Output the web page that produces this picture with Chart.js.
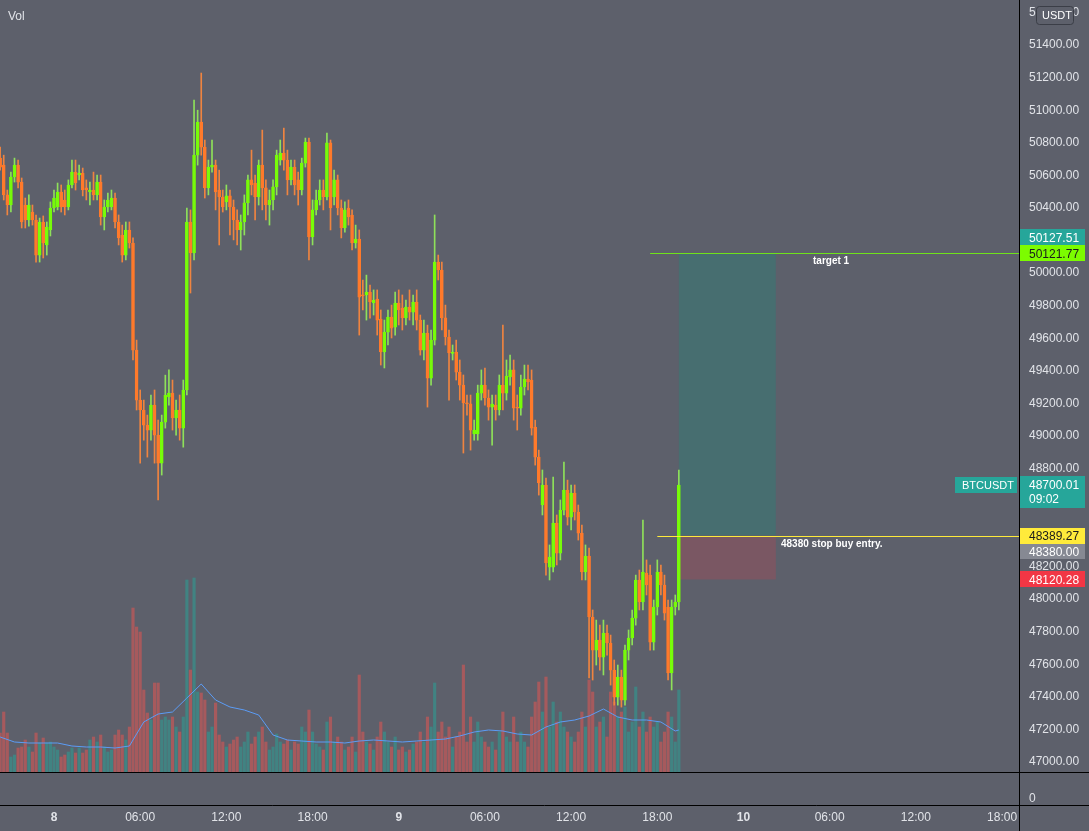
<!DOCTYPE html>
<html>
<head>
<meta charset="utf-8">
<script src="https://cdn.jsdelivr.net/npm/chart.js@4.4.1/dist/chart.umd.min.js"></script>
<style>
  html, body { margin: 0; padding: 0; background: #5d606b; }
  #wrap { width: 1089px; height: 831px; position: relative; }
</style>
</head>
<body>
<div id="wrap"><canvas id="btc"></canvas></div>
<script>
// 15 min BTCUSDT candles, time in hours from day 8 00:00 (first candle 7th 20:15)
const startHour = -3.75;
const stepHours = 0.25;

const opens = [
  50706, 50663, 50480, 50418, 50590, 50663, 50559, 50418, 50326, 50375,
  50326, 50111, 50314, 50173, 50265, 50400, 50406, 50498, 50449, 50406,
  50541, 50620, 50602, 50614, 50523, 50498, 50510, 50480, 50559, 50345,
  50406, 50406, 50461, 50314, 50234, 50111, 50265, 50185, 49528, 49221,
  49160, 49067, 49037, 49190, 49006, 48834, 49086, 49240, 49264, 49111,
  49160, 49049, 49283, 50314, 50124, 50724, 50927, 50773, 50523, 50651,
  50663, 50510, 50467, 50437, 50474, 50406, 50326, 50265, 50314, 50431,
  50572, 50553, 50467, 50663, 50523, 50418, 50449, 50529, 50694, 50737,
  50694, 50572, 50651, 50572, 50510, 50675, 50805, 50222, 50388, 50449,
  50510, 50467, 50799, 50467, 50572, 50400, 50277, 50400, 50357, 50185,
  50209, 49866, 49866, 49884, 49817, 49841, 49718, 49516, 49638, 49731,
  49669, 49817, 49786, 49725, 49792, 49761, 49823, 49712, 49528, 49632,
  49356, 49589, 50068, 50019, 49725, 49608, 49508, 49516, 49393, 49313,
  49203, 49198, 49013, 49013, 49264, 49313, 49234, 49178, 49190, 49160,
  49313, 49264, 49363, 49406, 49178, 49172, 49301, 49350, 49344, 49055,
  48871, 48577, 48700, 48196, 48196, 48466, 48282, 48546, 48669, 48503,
  48651, 48534, 48405, 48166, 48264, 47890, 47687, 47748, 47644, 47791,
  47730, 47564, 47398, 47521, 47380, 47687, 47761, 47883, 48117, 47982,
  48160, 48147, 47736, 47951, 48166, 48086, 47951, 47546, 47951, 47982
];
const highs = [
  50773, 50724, 50510, 50620, 50706, 50694, 50584, 50461, 50480, 50418,
  50357, 50338, 50351, 50314, 50437, 50510, 50553, 50541, 50510, 50572,
  50694, 50694, 50663, 50645, 50572, 50559, 50620, 50602, 50602, 50449,
  50492, 50510, 50492, 50357, 50295, 50314, 50314, 50216, 49589, 49283,
  49221, 49129, 49252, 49283, 49098, 49129, 49374, 49406, 49344, 49221,
  49252, 49344, 50400, 50388, 51062, 51000, 51228, 50817, 50694, 50817,
  50694, 50632, 50510, 50541, 50510, 50449, 50388, 50357, 50480, 50602,
  50755, 50602, 50694, 50878, 50572, 50510, 50572, 50755, 50817, 50890,
  50755, 50694, 50694, 50620, 50706, 50829, 50829, 50449, 50510, 50572,
  50572, 50860, 50817, 50632, 50602, 50449, 50437, 50449, 50388, 50295,
  50265, 49958, 49988, 49927, 49897, 49897, 49774, 49712, 49774, 49804,
  49884, 49897, 49866, 49835, 49897, 49866, 49897, 49743, 49712, 49681,
  49651, 50357, 50111, 50068, 49804, 49651, 49559, 49589, 49467, 49375,
  49252, 49252, 49098, 49313, 49406, 49418, 49283, 49252, 49252, 49375,
  49682, 49467, 49497, 49467, 49252, 49375, 49436, 49436, 49406, 49098,
  48914, 48792, 48743, 48332, 48749, 48516, 48608, 48841, 48730, 48700,
  48700, 48577, 48454, 48332, 48313, 47933, 47871, 47840, 47871, 47840,
  47779, 47626, 47595, 47564, 47718, 47810, 47933, 48147, 48178, 48485,
  48240, 48209, 47994, 48240, 48209, 48147, 47994, 47994, 48025, 48792
];
const lows = [
  50632, 50449, 50357, 50375, 50559, 50523, 50277, 50277, 50289, 50295,
  50068, 50068, 50093, 50111, 50228, 50375, 50388, 50375, 50357, 50388,
  50523, 50510, 50572, 50474, 50449, 50418, 50449, 50449, 50295, 50265,
  50375, 50388, 50277, 50173, 50068, 50081, 50154, 49467, 49160, 48834,
  48975, 48871, 48975, 48834, 48608, 48761, 49049, 49190, 49037, 49006,
  48975, 48932, 49252, 49878, 50081, 50663, 50724, 50461, 50480, 50620,
  50388, 50173, 50375, 50388, 50234, 50204, 50173, 50142, 50234, 50357,
  50480, 50326, 50418, 50388, 50326, 50295, 50388, 50480, 50663, 50632,
  50480, 50541, 50480, 50418, 50480, 50651, 50081, 50173, 50357, 50418,
  50388, 50449, 50265, 50418, 50357, 50216, 50252, 50295, 50142, 50154,
  49620, 49774, 49712, 49724, 49743, 49620, 49436, 49418, 49559, 49602,
  49620, 49682, 49651, 49682, 49712, 49682, 49651, 49497, 49467, 49178,
  49313, 49559, 49958, 49651, 49559, 49221, 49467, 49344, 49221, 48896,
  49129, 48914, 48975, 48975, 49221, 49190, 49098, 48945, 49098, 49129,
  49160, 49221, 49313, 49098, 49037, 49129, 49252, 49283, 49006, 48822,
  48638, 48516, 48147, 48117, 48166, 48209, 48240, 48516, 48454, 48424,
  48485, 48362, 48117, 48117, 47516, 47503, 47595, 47564, 47534, 47656,
  47472, 47349, 47349, 47337, 47349, 47626, 47718, 47840, 47933, 47933,
  48025, 47687, 47687, 47902, 48025, 47871, 47503, 47442, 47902, 47933
];
const closes = [
  50651, 50480, 50418, 50590, 50663, 50559, 50314, 50326, 50418, 50326,
  50111, 50314, 50185, 50283, 50400, 50461, 50498, 50406, 50406, 50541,
  50620, 50553, 50614, 50510, 50510, 50510, 50480, 50559, 50345, 50406,
  50449, 50461, 50314, 50216, 50111, 50265, 50185, 49528, 49221, 49160,
  49067, 49037, 49190, 49006, 48834, 49086, 49252, 49264, 49111, 49160,
  49049, 49283, 50314, 50124, 50724, 50927, 50773, 50523, 50651, 50663,
  50498, 50467, 50406, 50474, 50406, 50326, 50265, 50314, 50431, 50572,
  50541, 50467, 50663, 50523, 50418, 50449, 50529, 50724, 50737, 50694,
  50572, 50651, 50541, 50510, 50675, 50805, 50222, 50388, 50449, 50510,
  50467, 50799, 50400, 50572, 50400, 50277, 50388, 50345, 50185, 50209,
  49853, 49860, 49884, 49823, 49835, 49712, 49516, 49638, 49731, 49663,
  49817, 49774, 49725, 49792, 49761, 49823, 49712, 49528, 49632, 49356,
  49589, 50068, 50019, 49725, 49608, 49510, 49516, 49393, 49313, 49203,
  49198, 49037, 49037, 49264, 49313, 49234, 49178, 49197, 49160, 49313,
  49264, 49369, 49406, 49172, 49172, 49301, 49350, 49332, 49049, 48871,
  48712, 48700, 48221, 48258, 48466, 48282, 48546, 48669, 48503, 48651,
  48534, 48405, 48166, 48264, 47890, 47687, 47748, 47644, 47791, 47730,
  47564, 47398, 47521, 47380, 47687, 47761, 47883, 48117, 47982, 48166,
  48086, 47736, 47951, 48166, 48086, 47914, 47546, 47951, 47982, 48700.01
];
const volumes = [
  390, 600, 390, 150, 170, 240, 250, 320, 250, 200,
  390, 290, 340, 290, 300, 250, 220, 150, 170, 200,
  240, 190, 240, 190, 220, 320, 350, 300, 370, 250,
  200, 220, 370, 420, 370, 320, 450, 1640, 1450, 1400,
  820, 590, 520, 890, 890, 520, 550, 520, 550, 450,
  400, 550, 1920, 1020, 1940, 800, 790, 720, 400, 450,
  690, 370, 300, 250, 280, 320, 350, 250, 300, 400,
  280, 350, 400, 450, 300, 220, 250, 380, 300, 280,
  320, 220, 300, 280, 450, 400, 620, 400, 280, 250,
  220, 500, 550, 300, 350, 300, 220, 250, 350, 200,
  970, 400, 300, 280, 220, 350, 500, 400, 300, 250,
  350, 220, 250, 200, 220, 280, 300, 400, 300, 550,
  450, 890, 400, 500, 350, 450, 250, 350, 400, 1070,
  300, 550, 300, 500, 350, 300, 250, 300, 220, 400,
  600, 350, 300, 550, 300, 400, 300, 250, 550, 700,
  900, 600, 950, 450, 700, 500, 600, 450, 400, 350,
  300, 400, 600, 450, 920, 800, 450, 500, 550, 350,
  800, 700, 550, 600, 650, 400, 500, 850, 450, 600,
  400, 550, 450, 500, 300, 400, 600, 550, 300, 820
];
// volume moving average, read hourly (candle index -> value)
const volMAIndex = [0, 4, 8, 12, 16, 20, 24, 28, 32, 36, 40, 44, 48, 52, 56, 60,
  64, 68, 72, 76, 80, 84, 88, 92, 96, 100, 104, 108, 112, 116, 120, 124, 128,
  132, 136, 140, 144, 148, 152, 156, 160, 164, 168, 172, 176, 180, 184, 188, 189];
const volMA = [350, 300, 290, 290, 290, 260, 250, 250, 240, 260, 500, 580, 600, 740, 880, 720,
  650, 620, 570, 370, 320, 310, 300, 300, 290, 310, 320, 310, 300, 310, 320, 330, 360,
  400, 420, 410, 380, 370, 450, 500, 520, 560, 630, 550, 520, 520, 500, 410, 420];

const priceTicks = [47000, 47200, 47400, 47600, 47800, 48000, 48200, 48400, 48600, 48800,
  49000, 49200, 49400, 49600, 49800, 50000, 50200, 50400, 50600, 50800, 51000, 51200, 51400, 51600];
const timeTicks = [0, 6, 12, 18, 24, 30, 36, 42, 48, 54, 60, 66];
const timeTickLabels = ["8", "06:00", "12:00", "18:00", "9", "06:00", "12:00", "18:00", "10", "06:00", "12:00", "18:00"];

// long position drawing
const targetPrice = 50121.77;
const entryPrice = 48389.27;
const stopPrice = 48120.28;
const lastPrice = 48700.01;
const bidPrice = 50127.51;
const orderPrice = 48380.00;
const positionFrom = 43.5, positionTo = 50.25;
const targetLineFrom = 41.5, entryLineFrom = 42;

const FONT = '"Liberation Sans", Arial, sans-serif';
const TEXT = '#e1e3e8';
Chart.defaults.font.family = FONT;
Chart.defaults.font.size = 12;

const xs = opens.map((_, i) => startHour + i * stepHours);
const up = closes.map((c, i) => c >= opens[i]);

const decor = {
  id: 'decor',
  beforeDraw(chart) {
    const c = chart.ctx;
    c.save();
    c.fillStyle = '#5d606b';
    c.fillRect(0, 0, chart.width, chart.height);
    c.restore();
  },
  beforeDatasetsDraw(chart) {
    const c = chart.ctx, x = chart.scales.x, y = chart.scales.y;
    const x0 = x.getPixelForValue(positionFrom), x1 = x.getPixelForValue(positionTo);
    const yt = y.getPixelForValue(targetPrice), ye = y.getPixelForValue(entryPrice), ys = y.getPixelForValue(stopPrice);
    c.save();
    c.fillStyle = 'rgba(8,153,129,0.25)';
    c.fillRect(x0, yt, x1 - x0, ye - yt);
    c.fillStyle = 'rgba(242,54,69,0.2)';
    c.fillRect(x0, ye, x1 - x0, ys - ye);
    c.restore();
  },
  afterDatasetsDraw(chart) {
    const c = chart.ctx, x = chart.scales.x, y = chart.scales.y, a = chart.chartArea;
    const yt = Math.round(y.getPixelForValue(targetPrice)) + 0.5;
    const ye = Math.round(y.getPixelForValue(entryPrice)) + 0.5;
    c.save();
    c.lineWidth = 1;
    c.strokeStyle = '#6fe31a';
    c.beginPath(); c.moveTo(x.getPixelForValue(targetLineFrom), yt); c.lineTo(a.right, yt); c.stroke();
    c.strokeStyle = '#ffeb3b';
    c.beginPath(); c.moveTo(x.getPixelForValue(entryLineFrom), ye); c.lineTo(a.right, ye); c.stroke();
    c.fillStyle = '#ffffff';
    c.font = 'bold 10px ' + FONT;
    c.textBaseline = 'middle';
    c.textAlign = 'left';
    c.fillText('target 1', 813, yt + 8);
    c.fillText('48380 stop buy entry.', 781, ye + 8);
    c.restore();
  },
  afterDraw(chart) {
    const c = chart.ctx, y = chart.scales.y, a = chart.chartArea;
    c.save();
    // pane separators
    c.strokeStyle = '#000000';
    c.lineWidth = 1;
    c.beginPath();
    c.moveTo(a.right + 0.5, 0); c.lineTo(a.right + 0.5, chart.height);
    c.moveTo(0, a.bottom + 0.5); c.lineTo(chart.width, a.bottom + 0.5);
    c.moveTo(0, 805.5); c.lineTo(chart.width, 805.5);
    c.stroke();
    c.fillStyle = TEXT;
    c.font = '12px ' + FONT;
    c.textBaseline = 'middle';
    c.fillText('Vol', 8, 17);
    c.fillText('0', a.right + 10, 799);

    const badge = (cy, h, bg, lines, fg, x = a.right + 1, w = 65) => {
      c.fillStyle = bg;
      c.fillRect(x, Math.round(cy - h / 2), w, h);
      c.fillStyle = fg;
      c.font = '12px ' + FONT;
      lines.forEach((t, k) => c.fillText(t, x + 9, cy - (lines.length - 1) * 7 + k * 14 + 1));
    };
    const pT = y.getPixelForValue(targetPrice);
    const pE = y.getPixelForValue(entryPrice);
    badge(pT - 16, 16, '#26a69a', [bidPrice.toFixed(2)], '#ffffff');
    badge(pT, 16, '#7cfc00', [targetPrice.toFixed(2)], '#1b1b1b');
    badge(pE, 16, '#ffeb3b', [entryPrice.toFixed(2)], '#1b1b1b');
    badge(pE + 16, 15, '#868993', [orderPrice.toFixed(2)], '#ffffff');
    badge(y.getPixelForValue(stopPrice), 16, '#f23645', [stopPrice.toFixed(2)], '#ffffff');
    const pL = y.getPixelForValue(lastPrice);
    badge(pL + 7, 32, '#26a69a', [lastPrice.toFixed(2), '09:02'], '#ffffff');
    // symbol tag
    c.fillStyle = '#26a69a';
    c.fillRect(955, Math.round(pL - 8), 62, 16);
    c.fillStyle = '#ffffff';
    c.font = '11px ' + FONT;
    c.fillText('BTCUSDT', 962, pL + 1);
    // currency tag over the top price label
    c.fillStyle = '#5d606b';
    c.strokeStyle = '#3b3e47';
    c.beginPath();
    c.roundRect(1036.5, 6.5, 37, 18, 3);
    c.fill(); c.stroke();
    c.fillStyle = '#ffffff';
    c.font = '11px ' + FONT;
    c.fillText('USDT', 1042, 16);
    c.restore();
  }
};

new Chart(document.getElementById('btc'), {
  type: 'bar',
  data: {
    datasets: [
      {
        label: 'wicks',
        data: xs.map((x, i) => ({ x, y: [lows[i], highs[i]] })),
        backgroundColor: up.map(u => u ? '#8ee05a' : '#ef8440'),
        grouped: false, barPercentage: 1, categoryPercentage: 1, maxBarThickness: 1,
        order: 1
      },
      {
        label: 'bodies',
        data: xs.map((x, i) => ({ x, y: [opens[i], closes[i]] })),
        backgroundColor: up.map(u => u ? 'rgba(118,255,3,0.45)' : '#ff7a2b'),
        borderColor: up.map(u => u ? '#76ff03' : '#ff7a2b'),
        borderWidth: 1, borderSkipped: false, minBarLength: 1,
        grouped: false, barPercentage: 1, categoryPercentage: 1, maxBarThickness: 3,
        order: 0
      },
      {
        type: 'line',
        label: 'vol ma',
        data: volMAIndex.map((k, j) => ({ x: xs[k], y: volMA[j] })),
        yAxisID: 'yv',
        borderColor: '#5b9cf6', borderWidth: 1, pointRadius: 0, tension: 0,
        order: 2
      },
      {
        label: 'volume',
        data: xs.map((x, i) => ({ x, y: volumes[i] })),
        yAxisID: 'yv',
        backgroundColor: up.map(u => u ? 'rgba(38,166,154,0.5)' : 'rgba(239,83,80,0.5)'),
        grouped: false, barPercentage: 1, categoryPercentage: 1, maxBarThickness: 2.5,
        order: 3
      }
    ]
  },
  options: {
    responsive: true,
    maintainAspectRatio: false,
    animation: false,
    devicePixelRatio: 1,
    layout: { padding: 0 },
    plugins: { legend: { display: false }, tooltip: { enabled: false } },
    scales: {
      x: {
        type: 'linear',
        min: -3.759,
        max: 67.18,
        offset: false,
        grid: { display: false, drawTicks: false },
        border: { display: true, color: '#000000' },
        afterBuildTicks: s => { s.ticks = timeTicks.map(v => ({ value: v })); },
        afterFit: s => { s.height = 59; s.paddingLeft = 0; s.paddingRight = 0; },
        ticks: {
          autoSkip: false, maxRotation: 0, padding: 38, color: TEXT,
          font: ctx => ({ family: FONT, size: 12, weight: (ctx.tick && timeTicks.indexOf(ctx.tick.value) % 4 === 0) ? 'bold' : 'normal' }),
          callback: v => timeTickLabels[timeTicks.indexOf(v)]
        }
      },
      y: {
        type: 'linear',
        position: 'right',
        min: 46938.6,
        max: 51676.2,
        grid: { display: false, drawTicks: false },
        border: { display: true, color: '#000000' },
        afterBuildTicks: s => { s.ticks = priceTicks.map(v => ({ value: v })); },
        afterFit: s => { s.width = 70; s.paddingTop = 0; s.paddingBottom = 0; },
        ticks: { padding: 10, color: TEXT, callback: v => Number(v).toFixed(2) }
      },
      yv: {
        type: 'linear',
        display: false,
        min: 0,
        max: 7720
      }
    }
  },
  plugins: [decor]
});
</script>
</body>
</html>
